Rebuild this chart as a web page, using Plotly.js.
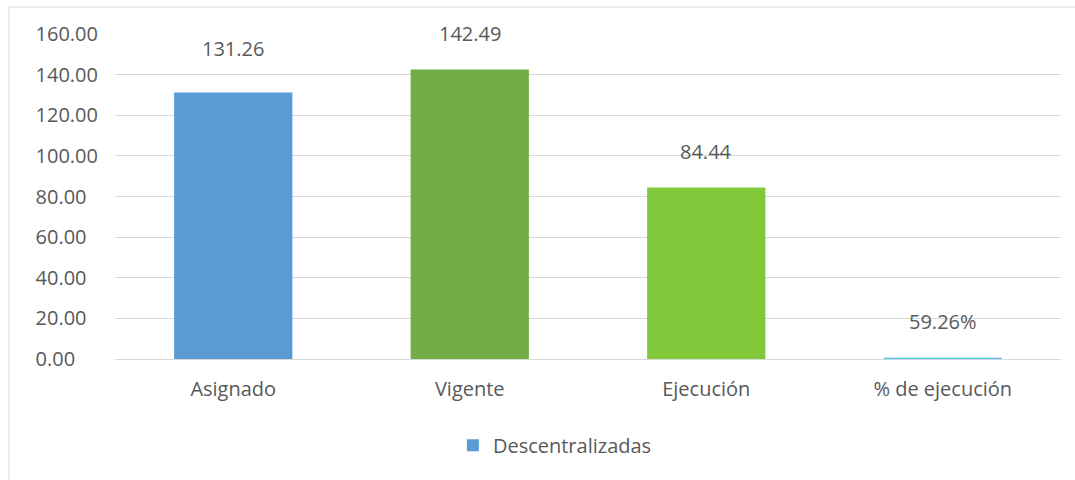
<!DOCTYPE html>
<html>
<head>
<meta charset="utf-8">
<script src="https://cdn.plot.ly/plotly-3.0.1.min.js"></script>
<style>html,body{margin:0;padding:0;background:#fff;}#chart{width:1075px;height:480px;}</style>
</head>
<body>
<div id="chart"></div>
<script>
var categories = ["Asignado", "Vigente", "Ejecución", "% de ejecución"];
var values = [131.26, 142.49, 84.44, 0.5926];
var labels = ["131.26", "142.49", "84.44", "59.26%"];
var barColors = ["#5B9BD5", "#70AD47", "#82C83B", "#4DC3EE"];
var seriesName = "Descentralizadas";
var yTicks = [0, 20, 40, 60, 80, 100, 120, 140, 160];
// left-aligned tick labels (padded with figure spaces, same width as a digit)
var yTickText = yTicks.map(function(v){
  var s = v.toFixed(2);
  while (s.length < 6) s += "\u2007";
  return s;
});

var fontFam = "'Open Sans', 'Noto Sans', sans-serif";
var txtColor = "#595959";
var fs = 20;

var trace = {
  type: "bar",
  x: categories,
  y: values,
  name: seriesName,
  width: 0.5,
  marker: { color: barColors },
  showlegend: true,
  hoverinfo: "x+y"
};

var annotations = categories.map(function(c, i){
  return {
    x: c, y: values[i], xref: "x", yref: "y",
    text: labels[i], showarrow: false,
    yanchor: "middle", yshift: (i === 0 ? 44 : 36),
    font: { family: fontFam, size: fs, color: txtColor }
  };
});

var layout = {
  width: 1075, height: 480,
  margin: { l: 115, r: 14, t: 34, b: 121 },
  paper_bgcolor: "#fff", plot_bgcolor: "#fff",
  font: { family: fontFam, color: txtColor, size: fs },
  xaxis: {
    showgrid: false, zeroline: false, showline: false, ticks: "",
    ticklabelstandoff: 16,
    tickfont: { family: fontFam, size: fs, color: txtColor }
  },
  yaxis: {
    range: [0, 160], tickvals: yTicks, ticktext: yTickText,
    showgrid: true, gridcolor: "#D9D9D9", gridwidth: 1,
    zeroline: true, zerolinecolor: "#D9D9D9", zerolinewidth: 1,
    showline: false, ticks: "", ticklabelstandoff: 16,
    tickfont: { family: fontFam, size: fs, color: txtColor }
  },
  showlegend: true,
  legend: {
    orientation: "h", x: 0.465, xanchor: "center", y: -0.265, yanchor: "middle",
    font: { family: fontFam, size: fs, color: txtColor }
  },
  annotations: annotations,
  shapes: [
    { type: "line", xref: "paper", yref: "paper", x0: -106/946, x1: 14/946 + 1, y0: (359-7)/325, y1: (359-7)/325, line: { color: "#D9D9D9", width: 1 } },
    { type: "line", xref: "paper", yref: "paper", x0: -106/946, x1: -106/946, y0: (359-7)/325, y1: -121/325, line: { color: "#D9D9D9", width: 1 } }
  ]
};

Plotly.newPlot("chart", [trace], layout, { displayModeBar: false, staticPlot: true });
</script>
</body>
</html>
